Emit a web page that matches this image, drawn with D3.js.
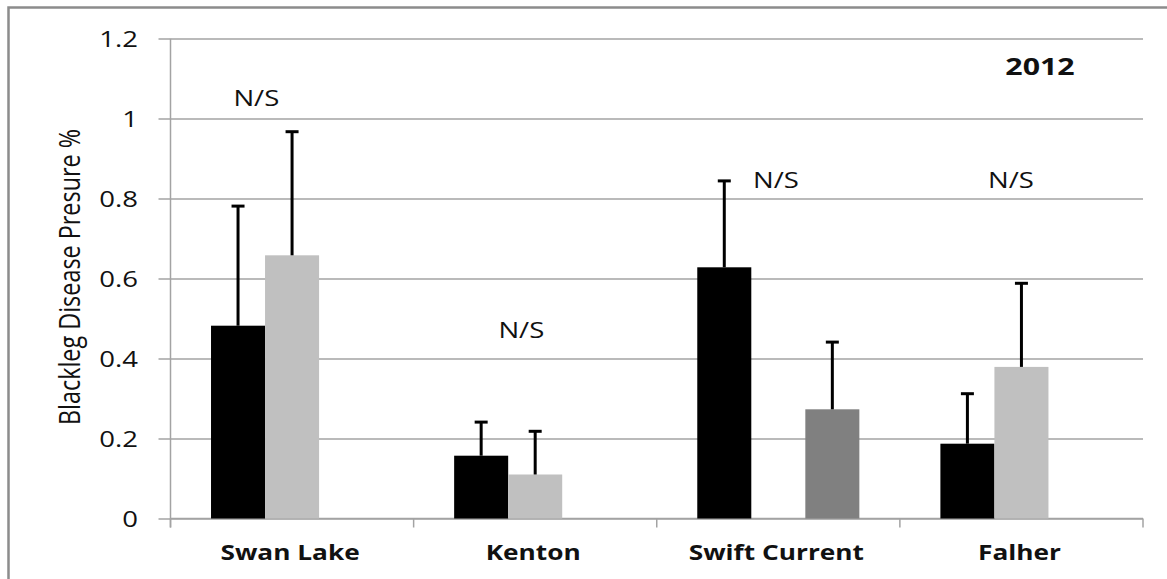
<!DOCTYPE html>
<html>
<head>
<meta charset="utf-8">
<script src="https://cdn.jsdelivr.net/npm/d3@7"></script>
<style>
  html, body { margin: 0; padding: 0; background: #fff; }
  svg { display: block; }
  text { font-family: "Open Sans", "DejaVu Sans", sans-serif; fill: #111; }
</style>
</head>
<body>
<svg id="chart" width="1167" height="579"></svg>
<script>
// Sites and the three treatment series (mean and upper error)
const categories = ["Swan Lake", "Kenton", "Swift Current", "Falher"];
const seriesKeys = ["s1", "s2", "s3"];
const meanS1 = [0.482, 0.157, 0.628, 0.187];
const meanS2 = [0.658, 0.110, null, 0.379];
const meanS3 = [null, null, 0.273, null];
const errS1 = [0.299, 0.084, 0.216, 0.125];
const errS2 = [0.309, 0.108, null, 0.209];
const errS3 = [null, null, 0.168, null];
const yTickValues = [0, 0.2, 0.4, 0.6, 0.8, 1, 1.2];
const yTickLabels = ["0", "0.2", "0.4", "0.6", "0.8", "1", "1.2"];
const sigLabels = ["N/S", "N/S", "N/S", "N/S"];
const sigLevels = [1.05, 0.47, 0.846, 0.845];
const yearLabel = "2012";
const yTitle = "Blackleg Disease Presure %";

const W = 1167, H = 579;
const svg = d3.select("#chart");
svg.append("rect").attr("width", W).attr("height", H).attr("fill", "#fff");

// chart frame (runs off the right and bottom edges)
svg.append("rect")
  .attr("x", 8.5).attr("y", 7.5)
  .attr("width", W + 20).attr("height", H + 20)
  .attr("fill", "none").attr("stroke", "#8c8c8c").attr("stroke-width", 2.5);

const plot = { left: 170.5, right: 1143, top: 38.5, bottom: 518.5 };
const SX = 1.31; // horizontal text stretch

const y = d3.scaleLinear().domain([0, 1.2]).range([plot.bottom, plot.top]);
const x = d3.scaleBand().domain(categories).range([plot.left, plot.right]).padding(0);
const xs = d3.scaleBand().domain(seriesKeys).range([0, x.bandwidth()])
  .paddingInner(0).paddingOuter(0.75);

const gridColor = "#a3a3a3";

// horizontal gridlines
const grid = svg.append("g")
  .attr("transform", `translate(${plot.left},0)`)
  .call(d3.axisLeft(y).tickValues(yTickValues)
    .tickSize(-(plot.right - plot.left)).tickFormat(""));
grid.select(".domain").remove();
grid.selectAll(".tick line").attr("stroke", gridColor).attr("stroke-width", 1.5);

// y axis with outside ticks and labels
const yAxis = svg.append("g")
  .attr("transform", `translate(${plot.left},0)`)
  .call(d3.axisLeft(y).tickValues(yTickValues).tickSize(12)
    .tickFormat((d, i) => yTickLabels[i]));
yAxis.select(".domain").attr("stroke", gridColor).attr("stroke-width", 1.5)
  .attr("d", `M0,${plot.top}V${plot.bottom + 9}`);
yAxis.selectAll(".tick line").attr("stroke", gridColor).attr("stroke-width", 1.5);
yAxis.selectAll(".tick text")
  .attr("x", 0).attr("dy", "0.36em")
  .attr("transform", `translate(-32.5,0) scale(${SX},1)`)
  .style("font-size", "21px").style("font-family", null).attr("fill", "#111");

// x axis baseline and boundary ticks
svg.append("line")
  .attr("x1", plot.left).attr("x2", plot.right)
  .attr("y1", plot.bottom).attr("y2", plot.bottom)
  .attr("stroke", gridColor).attr("stroke-width", 1.5);
const bounds = categories.map(c => x(c)).concat([plot.right]);
svg.append("g").selectAll("line").data(bounds).join("line")
  .attr("x1", d => d).attr("x2", d => d)
  .attr("y1", plot.bottom).attr("y2", plot.bottom + 9)
  .attr("stroke", gridColor).attr("stroke-width", 1.5);

// category labels
const xAxis = svg.append("g")
  .attr("transform", `translate(0,${plot.bottom})`)
  .call(d3.axisBottom(x).tickSize(0));
xAxis.select(".domain").remove();
xAxis.selectAll(".tick text")
  .attr("y", 0).attr("dy", 0)
  .attr("transform", `translate(-2,41) scale(1.25,1)`)
  .style("font-size", "21px").style("font-weight", "bold").style("font-family", null)
  .attr("fill", "#111");

// bars
const seriesDefs = [
  { key: "s1", means: meanS1, errs: errS1, color: "#000000" },
  { key: "s2", means: meanS2, errs: errS2, color: "#c0c0c0" },
  { key: "s3", means: meanS3, errs: errS3, color: "#808080" }
];
const barData = [];
seriesDefs.forEach(s => {
  categories.forEach((c, i) => {
    if (s.means[i] != null) barData.push({ cat: c, key: s.key, v: s.means[i], e: s.errs[i], color: s.color });
  });
});

svg.append("g").selectAll("rect").data(barData).join("rect")
  .attr("x", d => x(d.cat) + xs(d.key))
  .attr("width", xs.bandwidth())
  .attr("y", d => y(d.v))
  .attr("height", d => y(0) - y(d.v))
  .attr("fill", d => d.color);

// upper error bars
const capHalf = 6.5;
const eb = svg.append("g").attr("stroke", "#000").attr("stroke-width", 3);
eb.selectAll("line.stem").data(barData).join("line").attr("class", "stem")
  .attr("x1", d => x(d.cat) + xs(d.key) + xs.bandwidth() / 2)
  .attr("x2", d => x(d.cat) + xs(d.key) + xs.bandwidth() / 2)
  .attr("y1", d => y(d.v)).attr("y2", d => y(d.v + d.e));
eb.selectAll("line.cap").data(barData).join("line").attr("class", "cap")
  .attr("x1", d => x(d.cat) + xs(d.key) + xs.bandwidth() / 2 - capHalf)
  .attr("x2", d => x(d.cat) + xs(d.key) + xs.bandwidth() / 2 + capHalf)
  .attr("y1", d => y(d.v + d.e)).attr("y2", d => y(d.v + d.e));

// significance notes placed within each site band
const sigOffset = [0.353, 0.443, 0.49, 0.457];
svg.append("g").selectAll("g").data(categories).join("g")
  .attr("transform", (c, i) => `translate(${x(c) + sigOffset[i] * x.bandwidth()},${y(sigLevels[i])}) scale(${SX},1)`)
  .append("text")
  .attr("text-anchor", "middle").attr("dy", "0.36em")
  .style("font-size", "21px")
  .text((c, i) => sigLabels[i]);

// year tag
svg.append("g")
  .attr("transform", `translate(1040,67) scale(1.32,1)`)
  .append("text")
  .attr("text-anchor", "middle").attr("dy", "0.36em")
  .style("font-size", "23px").style("font-weight", "bold")
  .text(yearLabel);

// y axis title
svg.append("g")
  .attr("transform", `translate(80,277) rotate(-90) scale(1.2,1.45)`)
  .append("text")
  .attr("text-anchor", "middle").attr("dy", 0)
  .style("font-size", "19.5px")
  .text(yTitle);
</script>
</body>
</html>
